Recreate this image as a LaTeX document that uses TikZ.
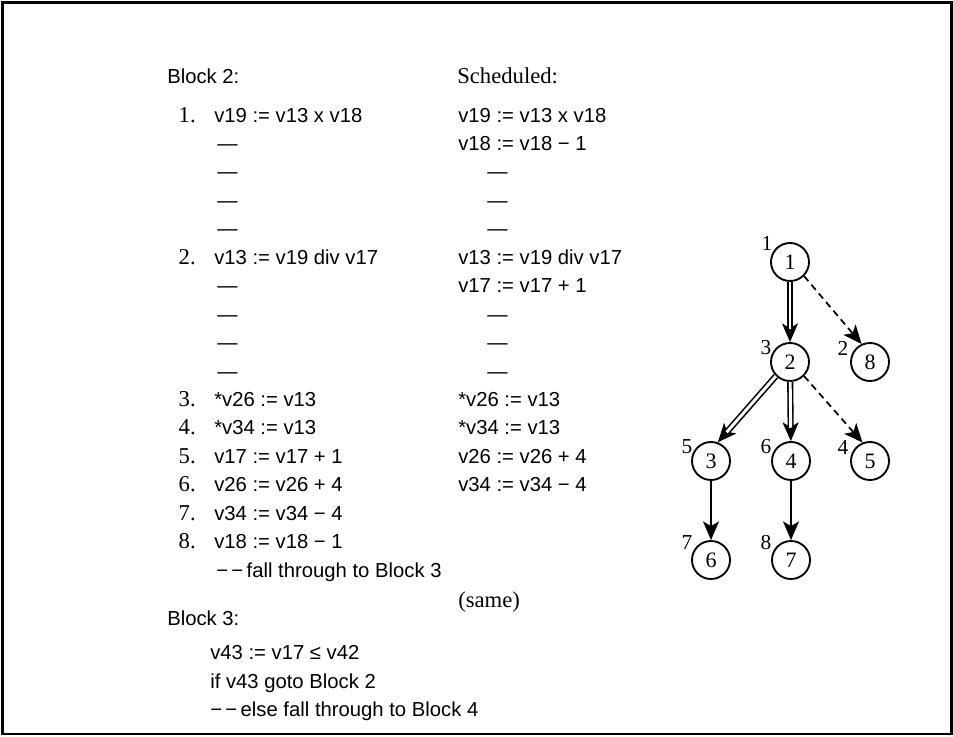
\documentclass[tikz,border=0pt]{standalone}
\usepackage{fontspec}
\setmainfont{Liberation Serif}
\newfontfamily\sansf{Liberation Sans}
\usetikzlibrary{arrows.meta}
\begin{document}
\begin{tikzpicture}[x=0.75pt,y=-0.75pt,
  code/.style={font=\sansf\fontsize{15.2}{18}\selectfont,anchor=base west,inner sep=0pt},
  num/.style={font=\fontsize{17}{20}\selectfont,anchor=base east,inner sep=0pt},
  ser/.style={font=\fontsize{17}{20}\selectfont,anchor=base west,inner sep=0pt},
  vtx/.style={circle,draw,line width=1.4pt,minimum size=28.5pt,inner sep=0pt,font=\fontsize{16.5}{18}\selectfont},
  lbl/.style={font=\fontsize{16}{18}\selectfont,inner sep=0pt},
  tipa/.style={-{Stealth[length=14pt,width=12pt,inset=3.5pt]}},
  solidedge/.style={line width=1.3pt,tipa},
  dashededge/.style={line width=1.3pt,dash pattern=on 5pt off 3.5pt,tipa},
  dblline/.style={line width=1.2pt,double=white,double distance=2.2pt,shorten >=10pt}
]
\useasboundingbox (0,0) rectangle (953,736);
\draw[line width=2.2pt] (2.5,2.5) rectangle (951.5,734);

% Left column
\node[code] (b2) at (167,83) {Block 2:};
\node[num] (k1) at (196,122) {1.};
\node[code] (l0) at (214,122) {v19 := v13 x v18};
\node[code] (l1) at (217,150.4) {—};
\node[code] (l2) at (217,178.9) {—};
\node[code] (l3) at (217,207.3) {—};
\node[code] (l4) at (217,235.8) {—};
\node[num] (k2) at (196,264.2) {2.};
\node[code] (l5) at (214,264.2) {v13 := v19 div v17};
\node[code] (l6) at (217,292.6) {—};
\node[code] (l7) at (217,321.1) {—};
\node[code] (l8) at (217,349.5) {—};
\node[code] (l9) at (217,378.0) {—};
\node[num] (k3) at (196,406.4) {3.};
\node[code] (l10) at (214,406.4) {*v26 := v13};
\node[num] (k4) at (196,434.8) {4.};
\node[code] (l11) at (214,434.8) {*v34 := v13};
\node[num] (k5) at (196,463.3) {5.};
\node[code] (l12) at (214,463.3) {v17 := v17 + 1};
\node[num] (k6) at (196,491.7) {6.};
\node[code] (l13) at (214,491.7) {v26 := v26 + 4};
\node[num] (k7) at (196,520.2) {7.};
\node[code] (l14) at (214,520.2) {v34 := v34 − 4};
\node[num] (k8) at (196,548.6) {8.};
\node[code] (l15) at (214,548.6) {v18 := v18 − 1};
\node[code] (l16) at (216,577.0) {−\,−\,fall through to Block 3};

\node[code] (b3) at (167,625) {Block 3:};
\node[code] (m1) at (210,659) {v43 := v17 ≤ v42};
\node[code] (m2) at (210,688) {if v43 goto Block 2};
\node[code] (m3) at (210,716) {−\,−\,else fall through to Block 4};

% Right column
\node[ser] (sch) at (457,83) {Scheduled:};
\node[code] (r0) at (458,122) {v19 := v13 x v18};
\node[code] (r1) at (458,150.4) {v18 := v18 − 1};
\node[code] (r2) at (487,178.9) {—};
\node[code] (r3) at (487,207.3) {—};
\node[code] (r4) at (487,235.8) {—};
\node[code] (r5) at (458,264.2) {v13 := v19 div v17};
\node[code] (r6) at (458,292.6) {v17 := v17 + 1};
\node[code] (r7) at (487,321.1) {—};
\node[code] (r8) at (487,349.5) {—};
\node[code] (r9) at (487,378.0) {—};
\node[code] (r10) at (458,406.4) {*v26 := v13};
\node[code] (r11) at (458,434.8) {*v34 := v13};
\node[code] (r12) at (458,463.3) {v26 := v26 + 4};
\node[code] (r13) at (458,491.7) {v34 := v34 − 4};
\node[ser] (same) at (458,607) {(same)};

% Graph
\node[vtx] (n1) at (790,262) {1};
\node[vtx] (n2) at (790,362) {2};
\node[vtx] (n8) at (870,362) {8};
\node[vtx] (n3) at (711,461) {3};
\node[vtx] (n4) at (791,461) {4};
\node[vtx] (n5) at (870,461) {5};
\node[vtx] (n6) at (711,560) {6};
\node[vtx] (n7) at (791,560) {7};

\node[lbl] (t1) at (767,243) {1};
\node[lbl] (t2) at (766,348) {3};
\node[lbl] (t8) at (843,348) {2};
\node[lbl] (t3) at (687,447) {5};
\node[lbl] (t4) at (766,447) {6};
\node[lbl] (t5) at (843,447) {4};
\node[lbl] (t6) at (687,543) {7};
\node[lbl] (t7) at (766,543) {8};

\draw[solidedge] (n1) -- (n2);
\draw[dblline] (n1) -- (n2);
\draw[solidedge] (n2.225) -- (n3.70);
\draw[dblline] (n2.225) -- (n3.70);
\draw[solidedge] (n2) -- (n4);
\draw[dblline] (n2) -- (n4);
\draw[dashededge] (n1.-45) -- (n8.115);
\draw[dashededge] (n2.-45) -- (n5.112);
\draw[solidedge] (n3) -- (n6);
\draw[solidedge] (n4) -- (n7);
\end{tikzpicture}
\end{document}
